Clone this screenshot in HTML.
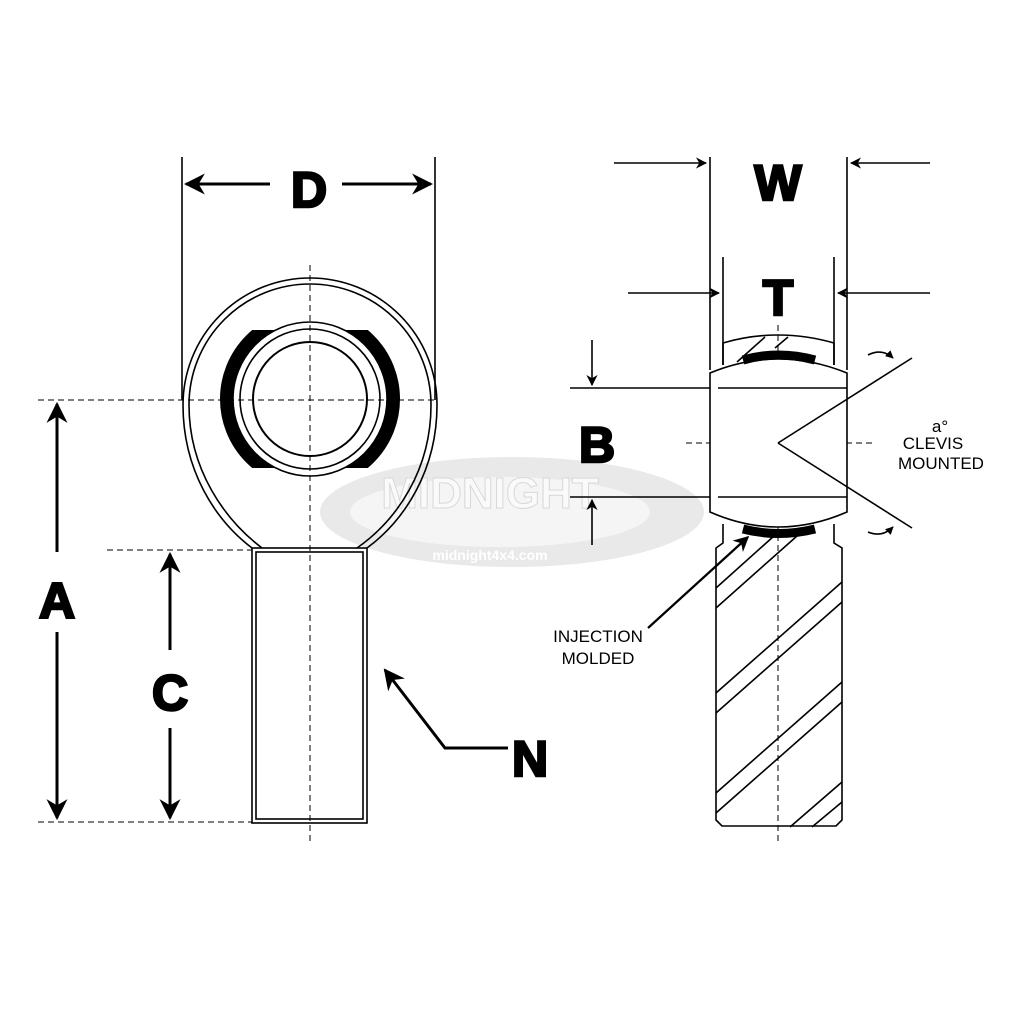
<!DOCTYPE html>
<html><head><style>
html,body{margin:0;padding:0;background:#fff;}
svg{display:block;}
.big{font-family:"Liberation Sans",sans-serif;font-weight:bold;font-size:50px;stroke:#000;stroke-width:2.5;}
.sm{font-family:"Liberation Sans",sans-serif;font-size:17px;}
</style></head><body>
<svg width="1024" height="1024" viewBox="0 0 1024 1024" xmlns="http://www.w3.org/2000/svg">
<defs>
<marker id="ah" viewBox="0 0 10 10" refX="9" refY="5" markerWidth="7" markerHeight="7" orient="auto-start-reverse"><path d="M0,0 L10,5 L0,10 L3,5 z" fill="#000"/></marker>
<marker id="as" viewBox="0 0 10 10" refX="9" refY="5" markerWidth="5" markerHeight="5" orient="auto"><path d="M0,0 L10,5 L0,10 z" fill="#000"/></marker>
<clipPath id="cb"><rect x="200" y="330" width="220" height="138"/></clipPath>
</defs>
<rect width="1024" height="1024" fill="#fff"/>
<!-- watermark -->
<ellipse cx="512" cy="512" rx="192" ry="55" fill="#e9e9e9"/>
<ellipse cx="500" cy="512" rx="150" ry="35" fill="#f5f5f5"/>
<text x="490" y="508" text-anchor="middle" font-family="Liberation Sans" font-weight="bold" font-size="44" fill="#fafafa" stroke="#d8d8d8">MIDNIGHT</text>
<text x="490" y="560" text-anchor="middle" font-family="Liberation Sans" font-weight="bold" font-size="14" fill="#fff">midnight4x4.com</text>

<g fill="none" stroke="#000" stroke-width="1.6">
<!-- left eye -->
<path d="M252,548 C215,520 183,470 183,405 A127,127 0 0 1 437,405 C437,470 405,520 367,548"/>
<path d="M262,548 C225,520 189,470 189,405 A121,121 0 0 1 431,405 C431,470 397,520 357,548"/>
<g clip-path="url(#cb)"><circle cx="310" cy="399" r="81" stroke-width="18"/></g>
<circle cx="310" cy="399" r="77" fill="#fff"/>
<circle cx="310" cy="399" r="70"/>
<circle cx="310" cy="399" r="57" stroke-width="2"/>
<rect x="252" y="548" width="115" height="275" fill="#fff"/>
<rect x="256" y="552" width="107" height="267"/>
<!-- dashed -->
<g stroke-dasharray="6,4" stroke-width="1">
<line x1="310" y1="265" x2="310" y2="842"/>
<line x1="38" y1="400" x2="435" y2="400"/>
<line x1="38" y1="822" x2="252" y2="822"/>
<line x1="107" y1="550" x2="252" y2="550"/>
<line x1="778" y1="325" x2="778" y2="842"/>
<line x1="686" y1="443" x2="875" y2="443"/>
</g>
<!-- D -->
<line x1="182" y1="157" x2="182" y2="400"/>
<line x1="435" y1="157" x2="435" y2="400"/>
<g stroke-width="3">
<line x1="270" y1="184" x2="186" y2="184" marker-end="url(#ah)"/>
<line x1="342" y1="184" x2="431" y2="184" marker-end="url(#ah)"/>
<line x1="57" y1="552" x2="57" y2="404" marker-end="url(#ah)"/>
<line x1="57" y1="632" x2="57" y2="818" marker-end="url(#ah)"/>
<line x1="170" y1="650" x2="170" y2="554" marker-end="url(#ah)"/>
<line x1="170" y1="728" x2="170" y2="818" marker-end="url(#ah)"/>
<polyline points="508,748 445,748 385,670" marker-end="url(#ah)"/>
</g>
<!-- right -->
<line x1="710" y1="157" x2="710" y2="370"/>
<line x1="847" y1="157" x2="847" y2="370"/>
<line x1="723" y1="257" x2="723" y2="365"/>
<line x1="834" y1="257" x2="834" y2="365"/>
<g stroke-width="1.6">
<line x1="614" y1="163" x2="706" y2="163" marker-end="url(#ah)"/>
<line x1="930" y1="163" x2="851" y2="163" marker-end="url(#ah)"/>
<line x1="628" y1="293" x2="719" y2="293" marker-end="url(#ah)"/>
<line x1="930" y1="293" x2="838" y2="293" marker-end="url(#ah)"/>
<line x1="592" y1="340" x2="592" y2="385" marker-end="url(#ah)"/>
<line x1="592" y1="545" x2="592" y2="500" marker-end="url(#ah)"/>
</g>
<line x1="648" y1="628" x2="748" y2="537" stroke-width="2.2" marker-end="url(#ah)"/>
<path d="M723,365 L723,343 Q778,327 834,343 L834,365"/>
<path d="M737,362 L765,337 M775,348 L788,337"/>
<path d="M710,512 L710,373 Q778,345 847,373 L847,512 Q778,542 710,512 Z" fill="#fff"/>
<line x1="570" y1="388" x2="710" y2="388"/>
<line x1="718" y1="388" x2="847" y2="388"/>
<line x1="570" y1="497" x2="710" y2="497"/>
<line x1="718" y1="497" x2="847" y2="497"/>
<line x1="778" y1="443" x2="912" y2="358"/>
<line x1="778" y1="443" x2="912" y2="528"/>
<path d="M743,360 Q778,350 815,360" stroke-width="9"/>
<path d="M743,529 Q778,538 815,529" stroke-width="9"/>
<path d="M723,524 L723,543 L716,548 L716,820 L722,826 L836,826 L842,820 L842,548 L834,543 L834,524"/>
<path d="M716,588 L774,536 M716,608 L797,536 M716,693 L842,582 M716,713 L842,602 M716,793 L842,682 M716,813 L842,702 M790,827 L842,782 M812,827 L842,802"/>
<path d="M868,355 Q882,348 893,358" marker-end="url(#as)"/>
<path d="M868,532 Q882,538 893,527" marker-end="url(#as)"/>
</g>
<text class="big" x="309" y="207" text-anchor="middle">D</text>
<text class="big" x="57" y="618" text-anchor="middle">A</text>
<text class="big" x="170" y="710" text-anchor="middle">C</text>
<text class="big" x="530" y="776" text-anchor="middle">N</text>
<text class="big" x="778" y="200" text-anchor="middle">W</text>
<text class="big" x="778" y="315" text-anchor="middle">T</text>
<text class="big" x="597" y="462" text-anchor="middle">B</text>
<text class="sm" x="940" y="432" text-anchor="middle">a°</text>
<text class="sm" x="933" y="449" text-anchor="middle">CLEVIS</text>
<text class="sm" x="941" y="469" text-anchor="middle">MOUNTED</text>
<text class="sm" x="598" y="642" text-anchor="middle">INJECTION</text>
<text class="sm" x="598" y="664" text-anchor="middle">MOLDED</text>
</svg>
</body></html>
